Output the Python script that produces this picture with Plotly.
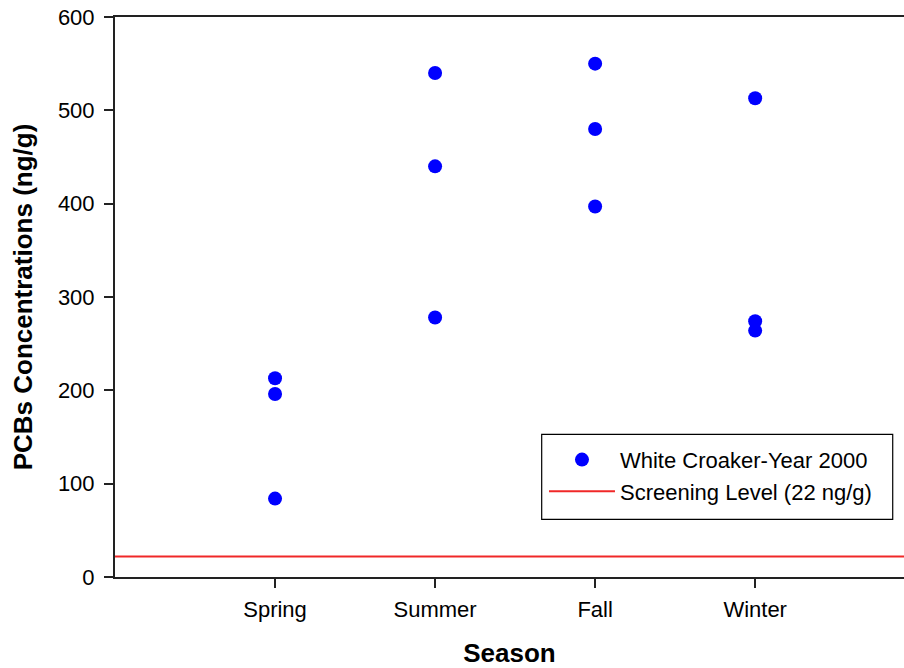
import plotly.graph_objects as go

seasons = ["Spring", "Summer", "Fall", "Winter"]
spring_vals = [213, 196, 84]
summer_vals = [540, 440, 278]
fall_vals = [550, 480, 397]
winter_vals = [513, 274, 264]
screening_level = 22
y_ticks = [0, 100, 200, 300, 400, 500, 600]

series_by_season = [spring_vals, summer_vals, fall_vals, winter_vals]
xs, ys = [], []
for s, vals in zip(seasons, series_by_season):
    for v in vals:
        xs.append(s)
        ys.append(v)

FONT = "Arial, 'Liberation Sans', sans-serif"

fig = go.Figure()
fig.add_trace(go.Scatter(
    x=xs, y=ys, mode="markers", name="White Croaker-Year 2000",
    marker=dict(color="#0000ff", size=14, line=dict(width=0)),
))
fig.add_trace(go.Scatter(
    x=[None], y=[None], mode="lines", name="Screening Level (22 ng/g)",
    line=dict(color="#f02828", width=2),
))
fig.add_shape(type="line", xref="paper", x0=0, x1=1, yref="y",
              y0=screening_level, y1=screening_level,
              line=dict(color="#f02828", width=2), layer="below")
# legend frame
fig.add_shape(type="rect", xref="paper", yref="paper",
              x0=0.5408, x1=0.9857, y0=0.103, y1=0.2548,
              line=dict(color="black", width=1.2), fillcolor="rgba(0,0,0,0)")

fig.update_layout(
    width=904, height=668,
    margin=dict(l=115, r=0, t=17, b=91, autoexpand=False),
    paper_bgcolor="white", plot_bgcolor="white",
    font=dict(family=FONT, size=22, color="black"),
    showlegend=True,
    legend=dict(
        x=0.5437, y=0.2468, xanchor="left", yanchor="top",
        borderwidth=0, bgcolor="rgba(0,0,0,0)",
        font=dict(size=22), itemwidth=66, tracegroupgap=0,
    ),
    xaxis=dict(
        type="category", categoryorder="array", categoryarray=seasons,
        range=[-1, 3.93],
        showgrid=False, zeroline=False,
        showline=True, linecolor="#222", linewidth=2, mirror=True,
        ticks="outside", ticklen=9, tickcolor="#222", tickwidth=1.5,
        tickfont=dict(size=22), ticklabelstandoff=3,
        title=dict(text="<b>Season</b>", font=dict(size=26), standoff=34),
        automargin=False,
    ),
    yaxis=dict(
        range=[0, 600], tickvals=y_ticks,
        showgrid=False, zeroline=False,
        showline=True, linecolor="#222", linewidth=2,
        ticks="outside", ticklen=9, tickcolor="#222", tickwidth=1.5,
        tickfont=dict(size=22), ticklabelstandoff=5, ticklabeloverflow="allow",
        title=dict(text="<b>PCBs Concentrations (ng/g)</b>", font=dict(size=26), standoff=18),
        automargin=False,
    ),
)

fig.write_html(
    "out.html",
    config={"displayModeBar": False},
    post_script="document.body.style.margin='0';document.body.style.overflow='hidden';",
)
